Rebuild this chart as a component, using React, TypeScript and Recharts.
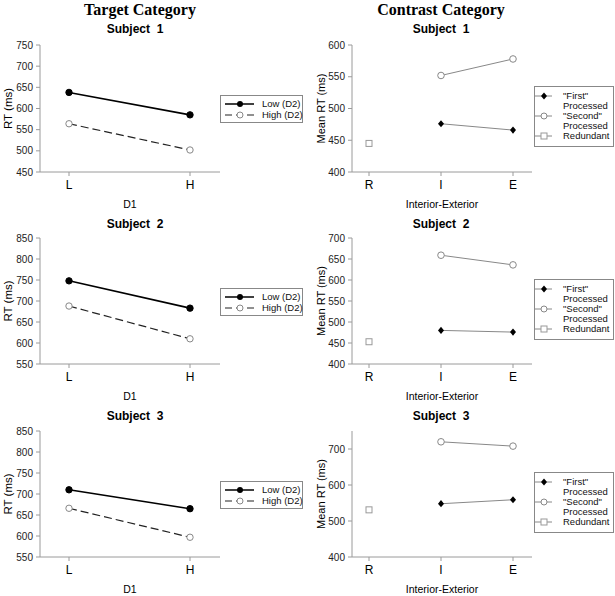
import { LineChart, Line, XAxis, YAxis, Legend } from 'recharts'

const d1Levels = ['L', 'H']
const ieLevels = ['R', 'I', 'E']

// Target category: RT per D1 level, split by D2
const s1Low = [638, 585]
const s1High = [564, 502]
const s2Low = [748, 683]
const s2High = [688, 610]
const s3Low = [710, 665]
const s3High = [666, 597]

// Contrast category: mean RT per interior-exterior condition
const s1First = [null, 476, 466]
const s1Second = [null, 552, 578]
const s1Redundant = [445, null, null]
const s2First = [null, 480, 476]
const s2Second = [null, 659, 636]
const s2Redundant = [453, null, null]
const s3First = [null, 548, 559]
const s3Second = [null, 720, 708]
const s3Redundant = [531, null, null]

const targetTicks1 = [450, 500, 550, 600, 650, 700, 750]
const targetTicks23 = [550, 600, 650, 700, 750, 800, 850]
const contrastTicks1 = [400, 450, 500, 550, 600]
const contrastTicks2 = [400, 450, 500, 550, 600, 650, 700]
const contrastTicks3 = [400, 500, 600, 700]

const FRAME = '#9a9a9a'
const SANS = '"Liberation Sans", Arial, sans-serif'

const Diamond = (props: any) => {
  const { cx, cy, value } = props
  if (cx == null || cy == null || value == null) return <g />
  return <path d={`M${cx},${cy - 3.6}L${cx + 3},${cy}L${cx},${cy + 3.6}L${cx - 3},${cy}Z`} fill="#000" />
}

const Square = (props: any) => {
  const { cx, cy, value } = props
  if (cx == null || cy == null || value == null) return <g />
  return <rect x={cx - 3} y={cy - 3} width={6} height={6} fill="#fff" stroke="#999" strokeWidth={1} />
}

function TargetLegend() {
  const row = { display: 'flex', alignItems: 'center', height: 11, whiteSpace: 'nowrap' as const }
  return (
    <div style={{ border: '1px solid #888', background: '#fff', padding: '2px 0', fontFamily: SANS, fontSize: 9.5, lineHeight: '11px', color: '#111', boxSizing: 'border-box', width: 83 }}>
      <div style={row}>
        <svg width={41} height={10} style={{ flex: 'none' }}>
          <line x1={4} y1={5} x2={33} y2={5} stroke="#000" strokeWidth={1.5} />
          <circle cx={19} cy={5} r={3} fill="#000" />
        </svg>
        <span>Low (D2)</span>
      </div>
      <div style={row}>
        <svg width={41} height={10} style={{ flex: 'none' }}>
          <line x1={4} y1={5} x2={33} y2={5} stroke="#222" strokeWidth={1.2} strokeDasharray="7 4" />
          <circle cx={19} cy={5} r={3} fill="#fff" stroke="#888" />
        </svg>
        <span>High (D2)</span>
      </div>
    </div>
  )
}

function ContrastLegend() {
  const row = { display: 'flex', alignItems: 'flex-start', whiteSpace: 'nowrap' as const }
  const items = [
    { label: ['"First"', 'Processed'], mark: 'diamond' },
    { label: ['"Second"', 'Processed'], mark: 'circle' },
    { label: ['Redundant'], mark: 'square' },
  ]
  return (
    <div style={{ border: '1px solid #888', background: '#fff', padding: '4px 0 5px', fontFamily: SANS, fontSize: 9.5, lineHeight: '10px', color: '#111', boxSizing: 'border-box', width: 80 }}>
      {items.map(it => (
        <div key={it.mark} style={row}>
          <svg width={28} height={10} style={{ flex: 'none' }}>
            <line x1={0} y1={5} x2={17} y2={5} stroke="#888" strokeWidth={1} />
            {it.mark === 'diamond' && <path d="M9,1.4L12,5L9,8.6L6,5Z" fill="#000" />}
            {it.mark === 'circle' && <circle cx={9} cy={5} r={3} fill="#fff" stroke="#888" />}
            {it.mark === 'square' && <rect x={6} y={2} width={6} height={6} fill="#fff" stroke="#999" />}
          </svg>
          <div>{it.label.map(l => <div key={l}>{l}</div>)}</div>
        </div>
      ))}
    </div>
  )
}

function Title({ text, cx, cy }: { text: string; cx: number; cy: number }) {
  return (
    <div style={{ position: 'absolute', left: cx - 70, top: cy - 7, width: 140, textAlign: 'center', fontFamily: SANS, fontWeight: 'bold', fontSize: 12, lineHeight: '14px', whiteSpace: 'pre' }}>
      {text}
    </div>
  )
}

function TargetPanel({ top, plotH, low, high, ticks }: any) {
  const data = d1Levels.map((c, i) => ({ cat: c, low: low[i], high: high[i] }))
  return (
    <div style={{ position: 'absolute', left: 0, top: top - 10 }}>
      <LineChart width={305} height={10 + plotH + 40} data={data} margin={{ top: 10, right: 85, bottom: 0, left: 0 }}>
        <XAxis dataKey="cat" height={40} tickSize={4} tickMargin={4} interval={0} padding={{ left: 29, right: 30 }}
          stroke={FRAME} tick={{ fontSize: 12, fill: '#000', fontFamily: SANS }}
          label={{ value: 'D1', position: 'insideBottom', offset: 4, fontSize: 10.5, fill: '#000', fontFamily: SANS }} />
        <XAxis xAxisId="frame" orientation="top" dataKey="cat" height={0} tick={false} tickLine={false} stroke={FRAME} />
        <YAxis width={40} domain={[ticks[0], ticks[ticks.length - 1]]} ticks={ticks} interval={0} tickSize={4} tickMargin={3}
          stroke={FRAME} tick={{ fontSize: 10, fill: '#222', fontFamily: SANS }}
          label={{ value: 'RT (ms)', angle: -90, position: 'insideLeft', offset: 8, fontSize: 11.5, fill: '#000', fontFamily: SANS, style: { textAnchor: 'middle' } }} />
        <YAxis yAxisId="frame" orientation="right" width={0} domain={[0, 1]} tick={false} tickLine={false} stroke={FRAME} />
        <Line dataKey="low" stroke="#000" strokeWidth={1.6} dot={{ r: 3.2, fill: '#000', stroke: '#000', strokeWidth: 1 }} isAnimationActive={false} />
        <Line dataKey="high" stroke="#222" strokeWidth={1.2} strokeDasharray="8 4"
          dot={{ r: 3.2, fill: '#fff', stroke: '#888', strokeWidth: 1, strokeDasharray: 'none' }} isAnimationActive={false} />
        <Legend layout="horizontal" verticalAlign="middle" align="center" wrapperStyle={{ left: 220, top: 60, width: 83 }} content={() => <TargetLegend />} />
      </LineChart>
    </div>
  )
}

function ContrastPanel({ top, plotH, first, second, redundant, ticks, domain }: any) {
  const data = ieLevels.map((c, i) => ({ cat: c, first: first[i], second: second[i], redundant: redundant[i] }))
  return (
    <div style={{ position: 'absolute', left: 305, top: top - 10 }}>
      <LineChart width={310} height={10 + plotH + 40} data={data} margin={{ top: 10, right: 83, bottom: 0, left: 0 }}>
        <XAxis dataKey="cat" height={40} tickSize={4} tickMargin={4} interval={0} padding={{ left: 17, right: 19 }}
          stroke={FRAME} tick={{ fontSize: 12, fill: '#000', fontFamily: SANS }}
          label={{ value: 'Interior-Exterior', position: 'insideBottom', offset: 4, fontSize: 10.5, fill: '#000', fontFamily: SANS }} />
        <XAxis xAxisId="frame" orientation="top" dataKey="cat" height={0} tick={false} tickLine={false} stroke={FRAME} />
        <YAxis width={47} domain={domain} ticks={ticks} interval={0} tickSize={4} tickMargin={3}
          stroke={FRAME} tick={{ fontSize: 10, fill: '#222', fontFamily: SANS }}
          label={{ value: 'Mean RT (ms)', angle: -90, position: 'insideLeft', offset: 16, fontSize: 11, fill: '#000', fontFamily: SANS, style: { textAnchor: 'middle' } }} />
        <YAxis yAxisId="frame" orientation="right" width={0} domain={[0, 1]} tick={false} tickLine={false} stroke={FRAME} />
        <Line dataKey="first" stroke="#888" strokeWidth={1} dot={<Diamond />} isAnimationActive={false} />
        <Line dataKey="second" stroke="#888" strokeWidth={1} dot={{ r: 3.3, fill: '#fff', stroke: '#888', strokeWidth: 1 }} isAnimationActive={false} />
        <Line dataKey="redundant" stroke="#999" strokeWidth={1} dot={<Square />} isAnimationActive={false} />
        <Legend layout="horizontal" verticalAlign="middle" align="center" wrapperStyle={{ left: 229, top: 51, width: 80 }} content={() => <ContrastLegend />} />
      </LineChart>
    </div>
  )
}

export default function App() {
  return (
    <div style={{ position: 'absolute', left: 0, top: 0, width: 615, height: 596, background: '#fff', overflow: 'hidden' }}>
      <div style={{ position: 'absolute', left: 40, top: 1, width: 200, textAlign: 'center', fontFamily: '"Liberation Serif", "Times New Roman", serif', fontWeight: 'bold', fontSize: 16, lineHeight: '18px' }}>
        Target Category
      </div>
      <div style={{ position: 'absolute', left: 341, top: 1, width: 200, textAlign: 'center', fontFamily: '"Liberation Serif", "Times New Roman", serif', fontWeight: 'bold', fontSize: 16, lineHeight: '18px' }}>
        Contrast Category
      </div>

      <Title text="Subject  1" cx={135} cy={29} />
      <Title text="Subject  1" cx={441} cy={29} />
      <Title text="Subject  2" cx={135} cy={224} />
      <Title text="Subject  2" cx={441} cy={224} />
      <Title text="Subject  3" cx={135} cy={416} />
      <Title text="Subject  3" cx={441} cy={416} />

      <TargetPanel top={45} plotH={127} low={s1Low} high={s1High} ticks={targetTicks1} />
      <TargetPanel top={238} plotH={126} low={s2Low} high={s2High} ticks={targetTicks23} />
      <TargetPanel top={431} plotH={126} low={s3Low} high={s3High} ticks={targetTicks23} />

      <ContrastPanel top={45} plotH={127} first={s1First} second={s1Second} redundant={s1Redundant} ticks={contrastTicks1} domain={[400, 600]} />
      <ContrastPanel top={238} plotH={126} first={s2First} second={s2Second} redundant={s2Redundant} ticks={contrastTicks2} domain={[400, 700]} />
      <ContrastPanel top={431} plotH={126} first={s3First} second={s3Second} redundant={s3Redundant} ticks={contrastTicks3} domain={[400, 750]} />
    </div>
  )
}
